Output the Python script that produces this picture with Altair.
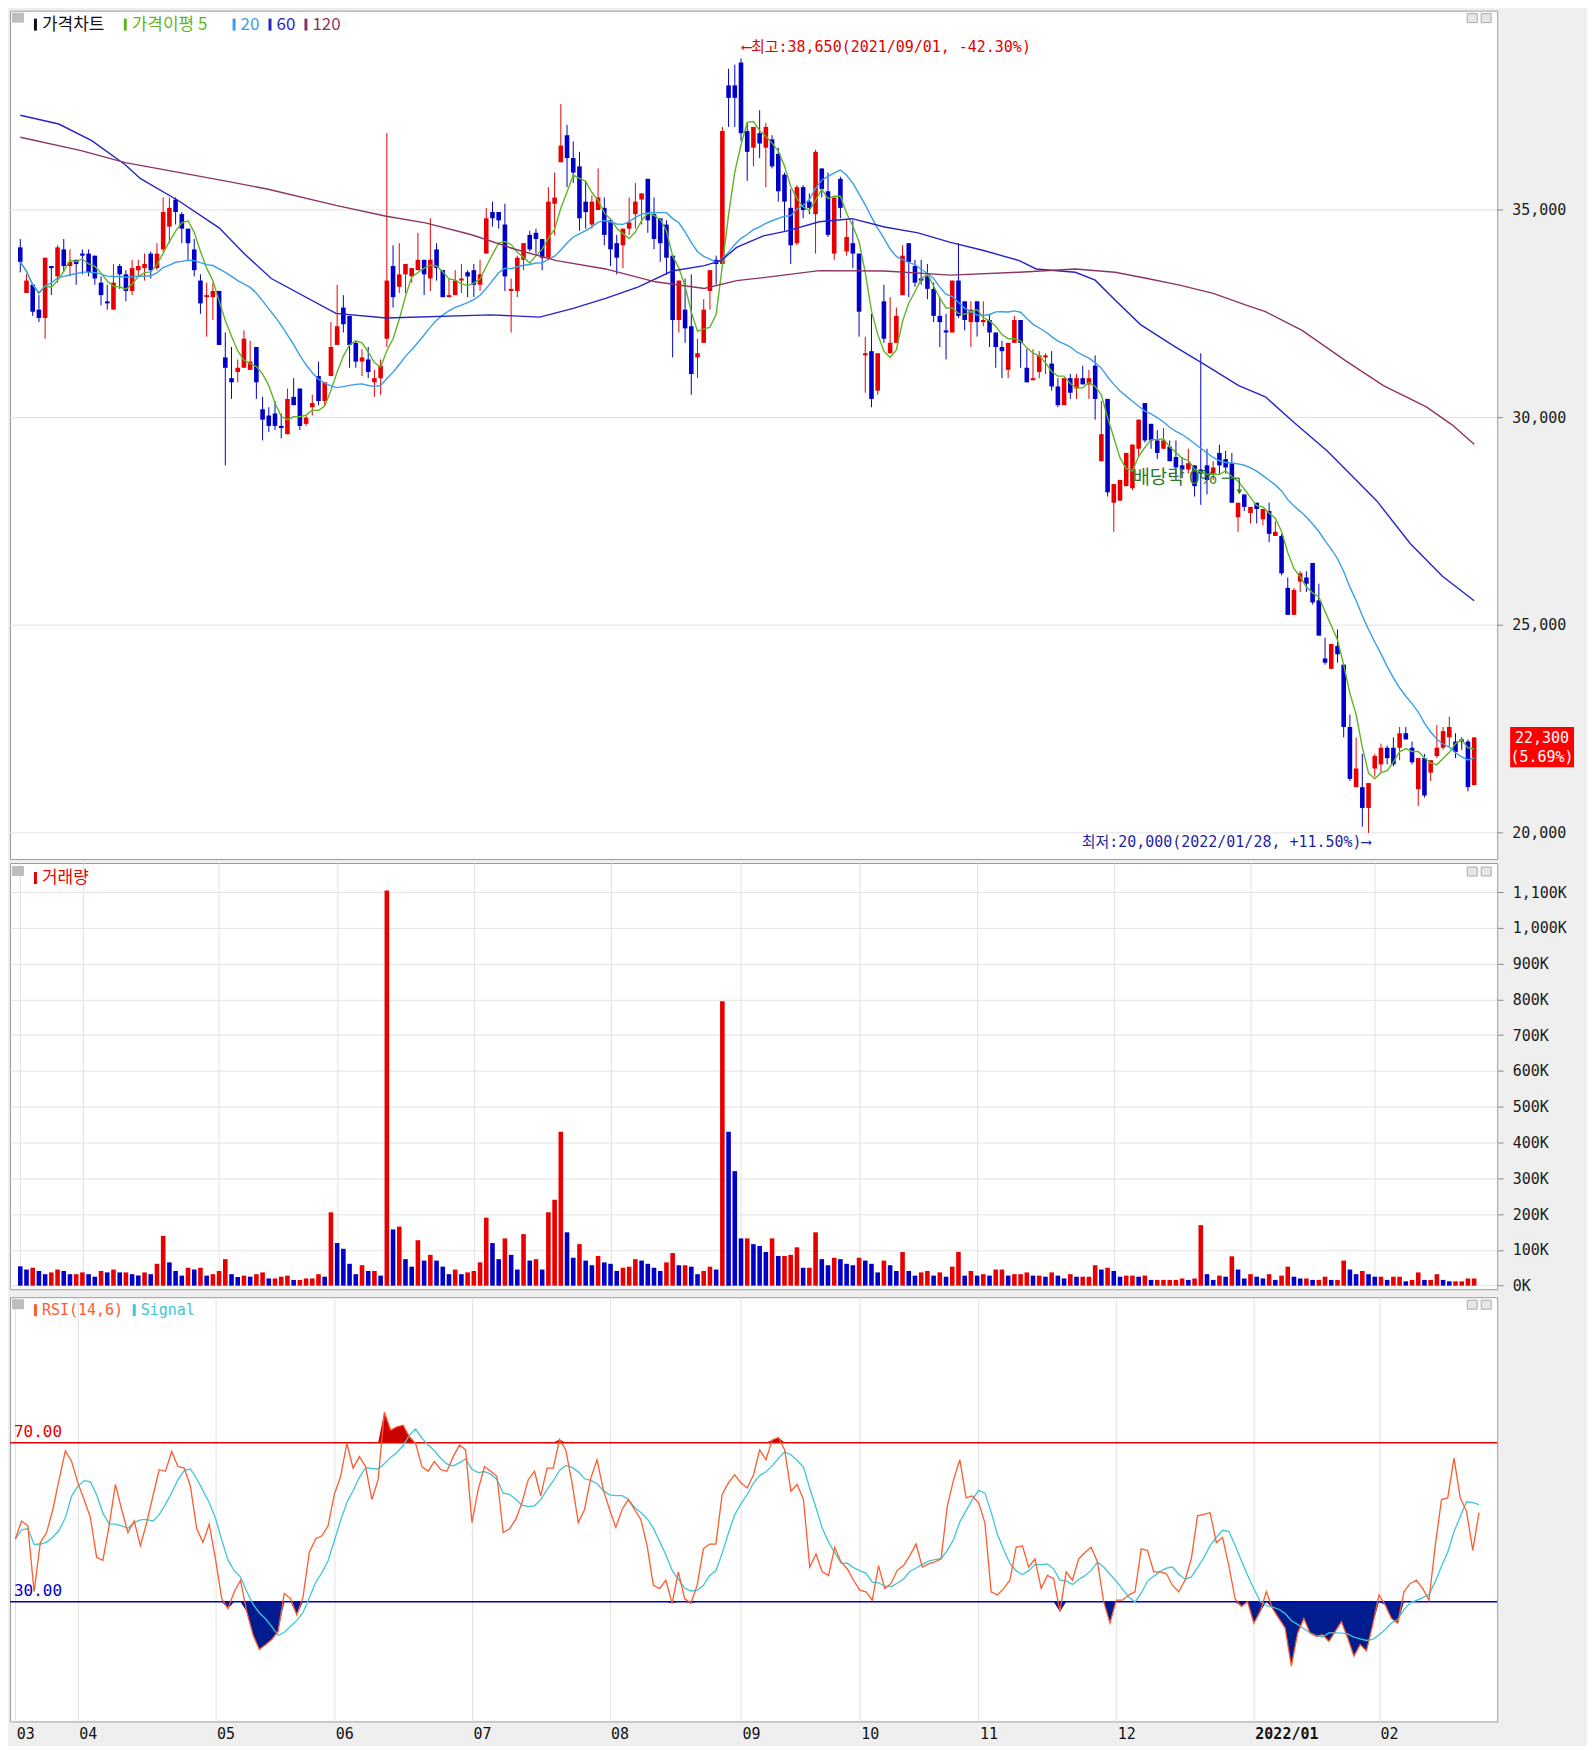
import altair as alt
import pandas as pd
import numpy as np

# ---------------- data (trading-day index 0..234) ----------------
OPEN = [34100, 33000, 33200, 32600, 32400, 33650, 33400, 34050, 33650, 33800,
        33950, 33950, 33900, 33250, 32800, 32600, 33650, 33450, 33050, 33550,
        33600, 33950, 33600, 34050, 34600, 35250, 34900, 34550, 34050, 33300,
        32900, 32900, 33050, 31450, 30950, 31100, 31200, 31150, 31700, 30200,
        30050, 30100, 29800, 29600, 30500, 30700, 29850, 30250, 31000, 30400,
        31000, 31750, 32650, 32450, 31800, 31350, 31400, 30850, 30950, 31900,
        33650, 33150, 33450, 33400, 33550, 33800, 33350, 34050, 33550, 32900,
        32950, 33300, 33500, 33550, 33200, 33950, 34950, 34950, 34650, 33050,
        33050, 33800, 34400, 34450, 34300, 33850, 35150, 36150, 36800, 36250,
        36050, 35200, 34650, 35000, 35050, 34750, 34200, 34150, 34550, 34900,
        35250, 35750, 34900, 34800, 34650, 33900, 32350, 32600, 32200, 31450,
        31800, 33050, 33800, 33700, 38000, 38000, 38550, 36900, 36500, 36850,
        36500, 36700, 36350, 35850, 35050, 34200, 35550, 35200, 34900, 36000,
        35450, 33950, 35750, 34000, 34200, 33950, 31500, 31600, 30650, 32800,
        31550, 31800, 32950, 34200, 33650, 33350, 33400, 33100, 32450, 32100,
        32050, 33300, 32800, 32300, 32800, 32300, 32350, 32050, 31700, 31150,
        31800, 32350, 31200, 30900, 31100, 31450, 31300, 30750, 30300, 30950,
        30700, 30950, 30800, 31250, 28950, 30450, 27950, 28000, 28350, 28300,
        29250, 30350, 29850, 29450, 29250, 29300, 29050, 28850, 28750, 28850,
        28750, 28850, 28650, 29150, 29000, 28900, 27600, 28150, 27700, 27950,
        27550, 27750, 27150, 27150, 25900, 25250, 26050, 26150, 26500, 25600,
        24200, 23950, 24500, 24050, 22550, 21100, 21100, 20600, 21550, 21650,
        22050, 22050, 22050, 22400, 22050, 21050, 21800, 21450, 21850, 22050,
        22300, 22200, 22250, 22200, 21150]
HIGH = [34300, 33450, 33200, 32950, 33850, 33650, 34150, 34300, 34050, 33800,
        34050, 34050, 33900, 33400, 33200, 33700, 33700, 33550, 33800, 33800,
        33950, 34000, 34200, 35300, 35300, 35300, 34950, 34550, 34300, 33450,
        33250, 33250, 33050, 32050, 31700, 31400, 32100, 31850, 31700, 30500,
        30250, 30400, 30100, 30700, 30950, 30700, 30050, 30550, 31350, 30850,
        32300, 33200, 32950, 32450, 31850, 31650, 31700, 31150, 31400, 36850,
        34150, 34200, 33700, 33600, 34450, 33800, 34800, 34200, 33550, 33350,
        33550, 33700, 33550, 33700, 33800, 35050, 35200, 34950, 35150, 33350,
        33900, 34200, 34500, 34550, 34300, 35550, 35900, 37550, 37050, 36650,
        36400, 35700, 35350, 36000, 35300, 34800, 34400, 34550, 35300, 35650,
        35400, 35750, 35300, 34800, 34750, 33900, 33300, 33350, 33450, 31900,
        32850, 33550, 33900, 37000, 38400, 38500, 38650, 37100, 37000, 37400,
        37100, 36800, 36500, 35900, 35500, 35600, 35600, 35400, 36450, 36000,
        35900, 35300, 35800, 34750, 34750, 33950, 31950, 32500, 31550, 33200,
        32900, 32650, 34150, 34200, 33800, 33800, 33700, 33250, 32900, 32500,
        33300, 34200, 32800, 32800, 32800, 32800, 32500, 32050, 31850, 31800,
        32450, 32350, 31650, 31650, 31600, 31550, 31600, 30950, 30950, 31050,
        31050, 31250, 31150, 31500, 30400, 30450, 28400, 28500, 29150, 29350,
        29950, 30350, 29850, 29700, 29750, 29450, 29450, 29050, 29250, 28850,
        31550, 29250, 28950, 29350, 29200, 29150, 27950, 28150, 27850, 27950,
        27800, 27950, 27500, 27200, 26150, 25900, 26300, 26300, 26500, 26000,
        24700, 24550, 24900, 24050, 22850, 22300, 21900, 21200, 21900, 22150,
        22100, 22300, 22550, 22550, 22200, 21800, 21900, 21750, 22600, 22550,
        22800, 22400, 22300, 22250, 22300]
LOW = [33500, 33000, 32450, 32300, 31900, 32950, 33250, 33500, 33400, 33200,
       33450, 33400, 33200, 32700, 32600, 32600, 33100, 32800, 32950, 33400,
       33300, 33350, 33550, 34000, 34200, 34650, 34200, 33800, 33400, 32500,
       31950, 32350, 31750, 28850, 30450, 30850, 31200, 31150, 30450, 29450,
       29650, 29700, 29500, 29600, 30300, 29700, 29800, 30050, 30300, 30300,
       31000, 31750, 32050, 31200, 31200, 31000, 30950, 30500, 30550, 31700,
       32650, 33000, 33000, 33250, 33550, 32950, 33050, 33300, 32900, 32900,
       32950, 33000, 32900, 32900, 33050, 33950, 34600, 34550, 33050, 32050,
       32900, 33550, 34000, 33950, 33550, 33850, 34400, 36150, 35550, 35650,
       34500, 34550, 34550, 35000, 34150, 33650, 33450, 33600, 34400, 34550,
       34650, 34450, 34050, 33750, 33450, 31450, 32050, 31800, 30550, 30950,
       31800, 32600, 33200, 33700, 37000, 37000, 36650, 35700, 36050, 36250,
       35550, 36000, 35200, 34500, 33700, 34150, 34800, 34900, 33950, 35300,
       34350, 33800, 34800, 33900, 33600, 31950, 30600, 30250, 30550, 31800,
       31550, 31800, 32950, 32900, 33150, 33200, 32850, 32300, 31700, 31400,
       32050, 32400, 32100, 31700, 31950, 32200, 31700, 31200, 30950, 30950,
       31800, 31200, 30850, 30900, 30950, 31050, 30650, 30250, 30300, 30450,
       30450, 30800, 30450, 29950, 28950, 28100, 27250, 28000, 28350, 28250,
       29050, 29400, 29250, 29000, 29250, 28950, 28500, 28550, 28650, 28100,
       27900, 28150, 28500, 28650, 28650, 27950, 27250, 27750, 27450, 27450,
       27400, 27000, 27150, 26200, 25250, 25250, 25800, 25800, 25500, 24750,
       24050, 23950, 24100, 22300, 21250, 21100, 20150, 20000, 21350, 21450,
       21650, 21600, 21750, 22250, 21650, 20650, 20850, 21250, 21800, 22000,
       22050, 21800, 22000, 21000, 21150]
CLOSE = [33750, 33300, 32550, 32400, 33850, 33600, 34100, 33650, 33750, 33700,
         33900, 33500, 33350, 32950, 32750, 33250, 33450, 33050, 33600, 33650,
         33700, 33550, 33950, 34950, 35050, 34950, 34550, 34200, 33550, 32750,
         32950, 33050, 31750, 31200, 30850, 31200, 31900, 31350, 30850, 29950,
         29800, 29800, 29750, 30450, 30300, 29800, 30000, 30350, 30400, 30850,
         31700, 32200, 32250, 31750, 31350, 31450, 31100, 30950, 31250, 33300,
         32900, 33450, 33700, 33600, 33800, 33450, 33800, 33600, 32900, 32950,
         33300, 33350, 33400, 33200, 33450, 34800, 34800, 34750, 33400, 33100,
         33850, 34200, 34050, 34300, 33850, 35200, 35300, 36550, 36250, 35900,
         34800, 34950, 35200, 35300, 34400, 34050, 33850, 34550, 34700, 35200,
         35400, 34750, 34300, 34200, 33850, 32350, 33300, 32150, 31050, 31550,
         32600, 33550, 33700, 36900, 37700, 37700, 36850, 36400, 37000, 36600,
         37000, 36050, 35450, 35200, 34150, 35550, 35000, 35050, 36400, 35500,
         34400, 35300, 35050, 34350, 33950, 32550, 31550, 30450, 31550, 31900,
         31800, 32450, 33900, 33750, 33250, 33300, 33100, 32450, 32300, 32050,
         33300, 32450, 32350, 32600, 32300, 32350, 32050, 31700, 31600, 31800,
         32350, 31800, 30850, 30950, 31500, 31500, 30750, 30300, 30950, 30600,
         30950, 30800, 30950, 30450, 29600, 28200, 28400, 28500, 29150, 29350,
         29950, 29450, 29450, 29150, 29450, 28950, 28800, 28750, 28900, 28350,
         28650, 28500, 28800, 28850, 28800, 27950, 27950, 27850, 27850, 27800,
         27800, 27200, 27250, 26250, 25250, 25850, 26250, 26000, 25550, 24750,
         24100, 24550, 24300, 22550, 21300, 21550, 20600, 21200, 21850, 22050,
         21800, 21650, 22400, 22250, 21700, 21800, 20900, 21750, 22050, 22450,
         22550, 21950, 22200, 21100, 22300]
VOLUME_K = [54, 45, 50, 41, 32, 37, 45, 41, 32, 32,
            37, 32, 25, 41, 37, 45, 37, 37, 32, 28,
            37, 32, 61, 139, 65, 41, 28, 50, 45, 50,
            28, 32, 41, 74, 32, 24, 28, 25, 32, 37,
            20, 20, 25, 28, 16, 16, 20, 20, 32, 25,
            205, 119, 103, 61, 32, 57, 41, 41, 28, 1104,
            157, 165, 74, 53, 127, 70, 86, 70, 53, 32,
            45, 32, 37, 41, 65, 190, 119, 74, 132, 86,
            45, 144, 70, 74, 45, 205, 240, 430, 149, 78,
            116, 70, 57, 83, 65, 61, 41, 50, 53, 74,
            70, 61, 50, 41, 65, 91, 57, 57, 53, 32,
            41, 53, 45, 795, 430, 320, 132, 132, 116, 111,
            94, 132, 83, 83, 86, 107, 50, 50, 149, 74,
            57, 78, 74, 61, 57, 78, 70, 61, 37, 70,
            57, 41, 94, 41, 28, 37, 41, 28, 37, 25,
            53, 94, 28, 41, 28, 32, 28, 45, 45, 28,
            32, 32, 37, 28, 28, 25, 37, 28, 20, 32,
            25, 25, 25, 57, 45, 50, 41, 25, 28, 28,
            25, 28, 16, 16, 16, 16, 16, 20, 16, 20,
            169, 32, 16, 28, 25, 82, 45, 20, 32, 25,
            20, 32, 16, 28, 53, 25, 20, 20, 16, 16,
            25, 16, 16, 70, 45, 32, 41, 32, 25, 25,
            16, 25, 25, 12, 16, 37, 16, 16, 32, 16,
            12, 12, 12, 20, 20]
RSI = [45.8, 50.3, 49.1, 32.5, 44.9, 47.4, 53.2, 60.7, 68.0, 65.3,
       59.9, 55.7, 51.2, 41.2, 40.4, 49.1, 59.5, 53.2, 47.4, 50.3,
       44.1, 49.9, 56.6, 63.2, 62.8, 67.8, 64.0, 63.6, 59.0, 48.4,
       44.9, 49.5, 40.8, 30.8, 28.3, 32.5, 35.4, 27.5, 21.7, 18.0,
       19.2, 20.5, 22.5, 32.1, 30.8, 26.7, 31.2, 42.4, 45.8, 46.6,
       49.1, 57.0, 61.5, 69.8, 63.6, 66.5, 64.0, 55.7, 60.7, 77.7,
       73.2, 74.0, 74.4, 71.5, 69.8, 64.0, 62.8, 65.3, 63.2, 62.8,
       66.5, 69.4, 68.2, 49.9, 58.2, 64.0, 62.8, 61.5, 47.4, 48.3,
       50.7, 54.9, 60.7, 62.8, 56.6, 63.6, 63.6, 70.8, 68.2, 59.9,
       49.9, 53.2, 61.1, 65.7, 58.2, 53.2, 48.7, 53.2, 55.7, 53.2,
       50.7, 44.1, 34.1, 33.3, 35.4, 29.6, 37.5, 30.8, 29.6, 34.1,
       43.3, 44.5, 44.5, 57.0, 59.9, 61.9, 59.9, 58.6, 61.9, 68.2,
       65.7, 70.7, 71.3, 68.2, 57.8, 59.5, 55.7, 38.7, 42.0, 37.5,
       36.6, 43.7, 40.0, 38.3, 35.4, 32.9, 32.5, 30.4, 39.1, 33.3,
       34.6, 37.9, 39.1, 41.6, 44.5, 38.7, 39.5, 40.0, 40.8, 54.1,
       60.7, 65.7, 56.1, 56.6, 54.9, 49.9, 32.5, 31.7, 33.3, 35.4,
       43.7, 44.1, 38.7, 40.8, 33.3, 36.6, 35.8, 27.5, 37.5, 35.4,
       40.8, 42.4, 43.7, 40.0, 30.0, 24.6, 30.4, 30.4, 31.7, 32.5,
       43.3, 42.9, 37.5, 37.5, 37.1, 34.1, 32.5, 35.4, 40.8, 51.6,
       52.0, 52.4, 44.9, 46.2, 39.1, 30.8, 28.8, 30.0, 24.6, 27.5,
       32.5, 28.3, 25.8, 23.4, 13.8, 22.1, 25.8, 22.1, 21.3, 21.7,
       20.0, 22.5, 25.0, 20.9, 16.3, 19.2, 17.6, 24.2, 31.7, 29.2,
       25.8, 24.6, 32.5, 34.6, 35.4, 33.3, 30.4, 44.1, 55.7, 56.1,
       66.1, 56.1, 52.8, 42.9, 52.4]
# longer moving averages (history before the window is not visible): read at sample days
MA60_DAY = [0, 6.2, 11.5, 16.9, 19.3, 25.6, 32, 36.1, 40.4, 50.8, 58.9, 75.7, 83.6, 89, 94.2,
            99.5, 104.9, 110.1, 112.8, 115.3, 119.6, 123.3, 128.6, 133.9, 139.1, 144.5, 149.7,
            154.9, 160.8, 163.5, 169.8, 173, 176.2, 180.3, 185.7, 190.9, 196.1, 200.4, 205.2,
            210.4, 218.3, 223.7, 228.9, 234]
MA60_VAL = [37280, 37070, 36670, 36090, 35760, 35210, 34570, 33940, 33350, 32510, 32400, 32475,
            32420, 32630, 32870, 33150, 33530, 33660, 33780, 34100, 34375, 34490, 34715, 34790,
            34590, 34450, 34220, 34030, 33780, 33580, 33500, 33310, 32830, 32240, 31720, 31250,
            30770, 30500, 29860, 29190, 28000, 26970, 26180, 25590]
MA120_DAY = [0, 9.8, 16.9, 25.7, 32.9, 39.9, 50.8, 58.9, 65.2, 72.5, 79.5, 86.3, 94.2, 102.2,
             110.1, 115.3, 119.6, 128.6, 139.1, 149.7, 160.8, 169.8, 176.2, 181.4, 186.6, 192,
             197.3, 200.4, 206.3, 213.4, 219.4, 226.3, 230.5, 234]
MA120_VAL = [36750, 36430, 36140, 35900, 35700, 35500, 35110, 34850, 34690, 34410, 34060, 33780,
             33580, 33270, 33110, 33300, 33370, 33540, 33530, 33430, 33500, 33580, 33500, 33350,
             33190, 32990, 32710, 32550, 32100, 31360, 30770, 30260, 29820, 29360]
MONTH_DAY = [0, 10, 32, 51, 73, 95, 116, 135, 154, 176, 198, 218]
MONTH_LABEL = ["03", "04", "05", "06", "07", "08", "09", "10", "11", "12", "2022/01", "02"]
PRICE_TICKS = [20000, 25000, 30000, 35000]
HIGH_DATE = "2021/09/01"
LOW_DATE = "2022/01/28"
EXDIV_DAY = 196

# ---------------- derived table ----------------
n = len(CLOSE)
df = pd.DataFrame({"i": np.arange(n), "o": OPEN, "h": HIGH, "l": LOW, "c": CLOSE, "v": VOLUME_K})
df["h"] = df[["h", "o", "c"]].max(axis=1)
df["l"] = df[["l", "o", "c"]].min(axis=1)
df["top"] = df[["o", "c"]].max(axis=1)
df["bot"] = df[["o", "c"]].min(axis=1)
df["dir"] = np.where(df["c"] >= df["o"], "up", "down")
df["ma5"] = df["c"].rolling(5, min_periods=1).mean()
df["ma20"] = df["c"].rolling(20, min_periods=1).mean()
prev_v = df["v"].shift(1)
df["vdir"] = np.where(prev_v.notna() & (df["v"] >= prev_v), "up", "down")
df["rsi"] = RSI
df["sig"] = df["rsi"].rolling(6, min_periods=1).mean()
df["rhi"] = np.maximum(df["rsi"], 70)
df["rlo"] = np.minimum(df["rsi"], 30)
df["b70"] = 70.0
df["b30"] = 30.0
ma60 = pd.DataFrame({"i": MA60_DAY, "m": MA60_VAL})
ma120 = pd.DataFrame({"i": MA120_DAY, "m": MA120_VAL})
ticks_p = pd.DataFrame({"y": PRICE_TICKS, "t": [f"{v:,}" for v in PRICE_TICKS]})

# ---------------- style ----------------
W = 1490
H_P, H_V, H_R = 850, 427, 425
XDOM = [-0.85, 236.9]
RED, BLUE = "#e80000", "#0000c8"
GRID = "#e2e2e2"
MONO = "DejaVu Sans Mono"
KR = "Noto Sans CJK KR"
MIX = "DejaVu Sans Mono, Noto Sans CJK KR"
C5, C20, C60, C120 = "#5fb526", "#3a9ee8", "#2424c8", "#8c3563"

XS = alt.Scale(domain=XDOM, nice=False, zero=False)
YP = alt.Scale(domain=[19370, 39800], nice=False, zero=False)
YV = alt.Scale(domain=[-10, 1181], nice=False, zero=False)
YR = alt.Scale(domain=[-0.1, 106.6], nice=False, zero=False)
DIRS = alt.Scale(domain=["up", "down"], range=[RED, BLUE])

month_expr = " : ".join(f"datum.value == {d} ? '{l}'" for d, l in zip(MONTH_DAY, MONTH_LABEL)) + " : ''"


def xg(field="i"):
    return alt.X(f"{field}:Q", scale=XS,
                 axis=alt.Axis(values=MONTH_DAY, grid=True, gridColor=GRID, labels=False,
                               ticks=False, domain=False, title=None))


def xb(field="i"):
    return alt.X(f"{field}:Q", scale=XS,
                 axis=alt.Axis(values=MONTH_DAY, grid=True, gridColor=GRID, labels=True,
                               ticks=False, domain=False, title=None, labelExpr=month_expr,
                               labelAlign="left", labelOffset=1, labelPadding=5,
                               labelFont=MONO, labelFontSize=15, labelColor="#111",
                               labelOverlap=False,
                               labelFontWeight={"condition": {"test": "datum.value == 198", "value": "bold"},
                                                "value": "normal"}))


def xn(field="i"):
    return alt.X(f"{field}:Q", scale=XS, axis=None)


def yaxis(values, fmt=None, expr=None):
    kw = dict(orient="right", values=values, grid=True, gridColor=GRID, ticks=True, tickSize=6,
              tickColor="#8a8a8a", domain=False, labelPadding=9, title=None, labelFont=MONO,
              labelFontSize=15, labelColor="#1a1a1a", labelOverlap=False, labelBaseline="middle")
    if fmt:
        kw["format"] = fmt
    if expr:
        kw["labelExpr"] = expr
    return alt.Axis(**kw)


AX_V = yaxis(list(range(0, 1101, 100)), expr="format(datum.value, ',') + 'K'")
AX_R = yaxis(list(range(0, 101, 10)), fmt=".2f")

one = pd.DataFrame({"k": [0]})


def yp(field):
    return alt.Y(f"{field}:Q", scale=YP, axis=None)


def legend(items, y, size=17, font=KR):
    layers = []
    for x0, txt, col in items:
        layers.append(alt.Chart(one).mark_rect(color=col).encode(
            x=alt.value(x0), x2=alt.value(x0 + 3), y=alt.value(y - 6), y2=alt.value(y + 6)))
        layers.append(alt.Chart(pd.DataFrame({"t": [txt]})).mark_text(
            align="left", baseline="middle", font=font, fontSize=size, color=col).encode(
            x=alt.value(x0 + 8), y=alt.value(y), text="t:N"))
    return layers


def icons(y0):
    out = []
    for a in (W - 30, W - 16):
        out.append(alt.Chart(one).mark_rect(fill="#e6e6e6", stroke="#ababab", strokeWidth=1).encode(
            x=alt.value(a), x2=alt.value(a + 10), y=alt.value(y0), y2=alt.value(y0 + 9)))
    return out


# ---------------- price panel ----------------
base = alt.Chart(df)
col = alt.Color("dir:N", scale=DIRS, legend=None)
# price gridlines, ticks and labels (right side) drawn as layers on the price scale
grid_p = alt.Chart(ticks_p).mark_rule(color=GRID, strokeWidth=1).encode(y=yp("y"))
tick_p = alt.Chart(ticks_p).mark_rule(color="#8a8a8a", strokeWidth=1).encode(
    x=alt.value(W), x2=alt.value(W + 6), y=yp("y"))
lab_p = alt.Chart(ticks_p).mark_text(align="left", baseline="middle", font=MONO, fontSize=15,
                                     color="#1a1a1a").encode(x=alt.value(W + 15), y=yp("y"), text="t:N")
wick = base.mark_rule(strokeWidth=1).encode(x=xg(), y=yp("l"), y2="h:Q", color=col)
body = base.mark_bar(size=4.6).encode(x=xg(), y=yp("bot"), y2="top:Q", color=col)
l5 = base.mark_line(color=C5, strokeWidth=1.4).encode(x=xg(), y=yp("ma5"))
l20 = base.mark_line(color=C20, strokeWidth=1.4).encode(x=xg(), y=yp("ma20"))
l60 = alt.Chart(ma60).mark_line(color=C60, strokeWidth=1.4).encode(x=xg(), y=yp("m"))
l120 = alt.Chart(ma120).mark_line(color=C120, strokeWidth=1.4).encode(x=xg(), y=yp("m"))

last, prev = CLOSE[-1], CLOSE[-2]
hi_i, hi_v = int(np.argmax(HIGH)), max(HIGH)
lo_i, lo_v = int(np.argmin(LOW)), min(LOW)
hi_txt = f"⟵최고:{hi_v:,}({HIGH_DATE}, {(last / hi_v - 1) * 100:+.2f}%)"
lo_txt = f"최저:{lo_v:,}({LOW_DATE}, {(last / lo_v - 1) * 100:+.2f}%)⟶"
ann_hi = alt.Chart(pd.DataFrame({"x": [hi_i], "y": [hi_v], "t": [hi_txt]})).mark_text(
    align="left", baseline="middle", dx=1, dy=-11, font=MIX, fontSize=15, color="#e00000").encode(
    x=xn("x"), y=yp("y"), text="t:N")
ann_lo = alt.Chart(pd.DataFrame({"x": [lo_i], "y": [lo_v], "t": [lo_txt]})).mark_text(
    align="right", baseline="middle", dx=2, dy=9, font=MIX, fontSize=15, color="#1f1fa8").encode(
    x=xn("x"), y=yp("y"), text="t:N")

GREEN = "#2b7a2b"
ex_y = 28540
ex_txt = alt.Chart(pd.DataFrame({"x": [EXDIV_DAY - 3.4], "y": [ex_y], "t": ["배당락 0%"]})).mark_text(
    align="right", baseline="middle", font=KR, fontSize=19, color=GREEN).encode(
    x=xn("x"), y=yp("y"), text="t:N")
ex_h = alt.Chart(pd.DataFrame({"x": [EXDIV_DAY - 2.6], "x2": [EXDIV_DAY + 0.2], "y": [ex_y]})).mark_rule(
    color=GREEN, strokeWidth=1.3).encode(x=xn("x"), x2="x2:Q", y=yp("y"))
ex_v = alt.Chart(pd.DataFrame({"x": [EXDIV_DAY + 0.2], "y": [ex_y], "y2": [ex_y - 300]})).mark_rule(
    color=GREEN, strokeWidth=1.3).encode(x=xn("x"), y=yp("y"), y2="y2:Q")
ex_a = alt.Chart(pd.DataFrame({"x": [EXDIV_DAY + 0.2], "y": [ex_y - 330]})).mark_point(
    shape="triangle-down", filled=True, size=30, color=GREEN, opacity=1).encode(
    x=xn("x"), y=yp("y"))

box = alt.Chart(pd.DataFrame({"a": [last + 250], "b": [last - 720]})).mark_rect(color="#ff0000").encode(
    x=alt.value(W + 13), x2=alt.value(W + 77), y=yp("a"), y2="b:Q")
box_t1 = alt.Chart(pd.DataFrame({"y": [last - 10], "t": [f"{last:,}"]})).mark_text(
    align="center", baseline="middle", font=MONO, fontSize=15, color="white").encode(
    x=alt.value(W + 45), y=yp("y"), text="t:N")
box_t2 = alt.Chart(pd.DataFrame({"y": [last - 480], "t": [f"({(last / prev - 1) * 100:.2f}%)"]})).mark_text(
    align="center", baseline="middle", font=MONO, fontSize=15, color="white").encode(
    x=alt.value(W + 45), y=yp("y"), text="t:N")

corner = alt.Chart(one).mark_rect(color="#bdbdbd").encode(
    x=alt.value(2), x2=alt.value(14), y=alt.value(2), y2=alt.value(12))
leg_p = legend([(24, "가격차트", "#111111"), (114, "가격이평 5", C5), (223, "20", C20),
                (259, "60", C60), (295, "120", C120)], 14)

price = alt.layer(grid_p, wick, body, l5, l20, l60, l120, tick_p, lab_p, ann_hi, ann_lo,
                  ex_txt, ex_h, ex_v, ex_a, box, box_t1, box_t2, corner, *leg_p,
                  *icons(3)).properties(width=W, height=H_P)

# ---------------- volume panel ----------------
vbar = base.mark_bar(size=4.6).encode(
    x=xg(), y=alt.Y("v:Q", scale=YV, axis=AX_V),
    color=alt.Color("vdir:N", scale=DIRS, legend=None))
corner_v = alt.Chart(one).mark_rect(color="#bdbdbd").encode(
    x=alt.value(2), x2=alt.value(14), y=alt.value(3), y2=alt.value(13))
leg_v = legend([(24, "거래량", RED)], 15)
volume = alt.layer(vbar, corner_v, *leg_v, *icons(4)).properties(width=W, height=H_V)

# ---------------- RSI panel ----------------
fill_hi = base.mark_area(color="#c80000", opacity=1).encode(
    x=xb(), y=alt.Y("rhi:Q", scale=YR, axis=AX_R), y2="b70:Q")
fill_lo = base.mark_area(color="#001c8f", opacity=1).encode(
    x=xb(), y=alt.Y("rlo:Q", scale=YR, axis=AX_R), y2="b30:Q")
lvl = pd.DataFrame({"y": [70, 30], "c": ["hi", "lo"], "t": ["70.00", "30.00"]})
LVLS = alt.Scale(domain=["hi", "lo"], range=["#d42424", "#22349c"])
rules = alt.Chart(lvl).mark_rule(strokeWidth=1.6).encode(
    y=alt.Y("y:Q", scale=YR, axis=None), color=alt.Color("c:N", scale=LVLS, legend=None))
rule_txt = alt.Chart(lvl).mark_text(align="left", baseline="middle", dy=-11, font=MONO, fontSize=16).encode(
    x=alt.value(4), y=alt.Y("y:Q", scale=YR, axis=None), text="t:N",
    color=alt.Color("c:N", scale=LVLS, legend=None))
sig = base.mark_line(color="#3fc6d6", strokeWidth=1.3).encode(x=xb(), y=alt.Y("sig:Q", scale=YR, axis=AX_R))
rsi = base.mark_line(color="#ff5b2e", strokeWidth=1.3).encode(x=xb(), y=alt.Y("rsi:Q", scale=YR, axis=AX_R))
corner_r = alt.Chart(one).mark_rect(color="#bdbdbd").encode(
    x=alt.value(2), x2=alt.value(14), y=alt.value(2), y2=alt.value(12))
leg_r = legend([(24, "RSI(14,6)", "#ff5b2e"), (123, "Signal", "#3fc6d6")], 13, size=15, font=MONO)
rsi_panel = alt.layer(fill_hi, fill_lo, rules, sig, rsi, rule_txt, corner_r, *leg_r, *icons(3)).properties(
    width=W, height=H_R)

chart = alt.vconcat(price, volume, rsi_panel, spacing=2).configure(
    background="#efefef", padding={"left": 0, "top": 0, "right": 12, "bottom": 2}
).configure_view(fill="white", stroke="#9c9c9c", strokeWidth=1)

chart.save("out.html", embed_options={"renderer": "svg", "actions": False})
